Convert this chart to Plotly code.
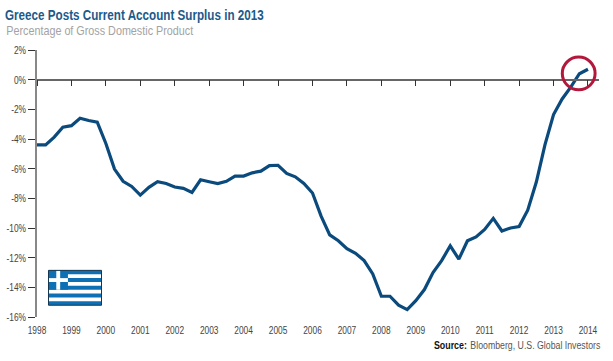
import plotly.graph_objects as go

W, H = 613, 361
L, R, T, B = 37, 14, 49.5, 43.5

years = [1998 + i * 0.25 for i in range(65)]
values = [
    -4.4, -4.4, -3.87, -3.2,
    -3.1, -2.6, -2.75, -2.86,
    -4.3, -6.03, -6.85, -7.2,
    -7.78, -7.26, -6.88, -7.0,
    -7.24, -7.33, -7.6, -6.75,
    -6.88, -7.0, -6.85, -6.5,
    -6.5, -6.28, -6.17, -5.8,
    -5.77, -6.32, -6.55, -7.0,
    -7.64, -9.2, -10.46, -10.86,
    -11.4, -11.7, -12.2, -13.1,
    -14.6, -14.6, -15.2, -15.5,
    -14.9, -14.15, -13.0, -12.2,
    -11.2, -12.1, -10.86, -10.6,
    -10.1, -9.35, -10.2, -10.0,
    -9.9, -8.8, -6.9, -4.4,
    -2.35, -1.3, -0.5, 0.4, 0.7,
]
x_ticks = list(range(1998, 2015))
y_ticks = list(range(-16, 3, 2))
y_labels = [f"{v}%" for v in y_ticks]

TITLE = "Greece Posts Current Account Surplus in 2013"
SUBTITLE = "Percentage of Gross Domestic Product"
SOURCE_HEAD = "Source:"
SOURCE_BODY = "Bloomberg, U.S. Global Investors"

FONT = "Liberation Sans, Arial, sans-serif"
BLUE = "#0b4a7c"
AXIS = "#333333"
FLAG_BLUE = "#0e70b4"


def px(v):
    return (v - L) / (W - L - R)


def py(v):
    return 1 - (v - T) / (H - T - B)


def rect(x0, y0, x1, y1, fill, line=None, width=0):
    return dict(type="rect", xref="paper", yref="paper", x0=px(x0), x1=px(x1), y0=py(y0), y1=py(y1),
                fillcolor=fill, line=dict(color=line or fill, width=width), layer="above")


fx0, fx1, fy0, fy1 = 48.5, 101.5, 270.7, 305.7
sh = (fy1 - fy0) / 9
shapes = [rect(fx0, fy0, fx1, fy1, FLAG_BLUE)]
for i in (1, 3, 5, 7):
    shapes.append(rect(fx0, fy0 + i * sh, fx1, fy0 + (i + 1) * sh, "white"))
shapes.append(rect(fx0, fy0, fx0 + 5 * sh, fy0 + 5 * sh, FLAG_BLUE))
shapes.append(rect(fx0, fy0 + 2 * sh, fx0 + 5 * sh, fy0 + 3 * sh, "white"))
shapes.append(rect(fx0 + 2 * sh, fy0, fx0 + 3 * sh, fy0 + 5 * sh, "white"))
shapes.append(dict(type="rect", xref="paper", yref="paper", x0=px(fx0), x1=px(fx1), y0=py(fy0), y1=py(fy1),
                   line=dict(color="#15374f", width=1), layer="above"))
cx, cy, cr = 578.7, 73, 16.4
shapes.append(dict(type="circle", xref="paper", yref="paper", x0=px(cx - cr), x1=px(cx + cr),
                   y0=py(cy + cr), y1=py(cy - cr), line=dict(color="#b3173b", width=3), layer="above"))

fig = go.Figure()
fig.add_trace(go.Scatter(x=years, y=values, mode="lines", line=dict(color=BLUE, width=3.2), hoverinfo="skip"))
fig.add_trace(go.Scatter(x=x_ticks, y=[None] * len(x_ticks), xaxis="x2", mode="lines", hoverinfo="skip"))

xrange = [1998, 2014.32]
fig.update_layout(
    width=W, height=H, autosize=False,
    margin=dict(l=L, r=R, t=T, b=B, pad=0, autoexpand=False),
    paper_bgcolor="white", plot_bgcolor="white", showlegend=False,
    title=dict(text=TITLE, x=5 / W, xanchor="left", y=1 - 15 / H, yanchor="middle", xref="container", yref="container",
               font=dict(family=FONT, size=15.5, color="#1c5a8a", weight="bold")),
    xaxis=dict(range=xrange, tickmode="array", tickvals=x_ticks, ticktext=[str(v) for v in x_ticks],
               automargin=False, ticks="", showgrid=False, zeroline=False, showline=False, ticklabelstandoff=5,
               tickfont=dict(family=FONT, size=11, color="#444444")),
    xaxis2=dict(range=xrange, overlaying="x", anchor="free", position=16 / 18, side="bottom",
                tickmode="array", tickvals=x_ticks, showticklabels=False, ticks="outside", ticklen=6,
                tickwidth=1, tickcolor=AXIS, showgrid=False, zeroline=False, showline=True,
                linecolor="#666666", linewidth=1.5),
    yaxis=dict(range=[-16, 2], tickmode="array", tickvals=y_ticks, ticktext=y_labels, ticks="outside", ticklen=7,
               automargin=False, tickwidth=1, tickcolor=AXIS, showgrid=False, zeroline=False, showline=True,
               linecolor="#888888", linewidth=1.5,
               tickfont=dict(family=FONT, size=11, color="#444444")),
    shapes=shapes,
    annotations=[
        dict(text=SUBTITLE, xref="paper", yref="paper", x=px(99.5), y=py(30), xanchor="center", yanchor="middle",
             showarrow=False, font=dict(family=FONT, size=13, color="#a3a3a3")),
        dict(text=SOURCE_HEAD, xref="paper", yref="paper", x=px(450), y=py(345.5), xanchor="center", yanchor="middle",
             showarrow=False, font=dict(family=FONT, size=11.5, color="#111111", weight="bold")),
        dict(text=SOURCE_BODY, xref="paper", yref="paper", x=px(535), y=py(345.5), xanchor="center", yanchor="middle",
             showarrow=False, font=dict(family=FONT, size=11.5, color="#555555")),
    ],
)

# The original uses a condensed face; no condensed face is installed, so the real text is narrowed in place.
NARROWING = """
document.body.style.margin = '0';
function narrow(t, k) {
  var x = parseFloat(t.getAttribute('x')) || 0;
  var old = t.getAttribute('transform') || '';
  t.setAttribute('transform', old + ' translate(' + x + ',0) scale(' + k + ',1) translate(' + (-x) + ',0)');
}
document.querySelectorAll('.gtitle').forEach(function (t) { narrow(t, 259 / t.getComputedTextLength()); });
document.querySelectorAll('.xtick text, .ytick text').forEach(function (t) { narrow(t, 0.76); });
var widths = [187, 33, 130];
document.querySelectorAll('.annotation-text').forEach(function (t, i) {
  narrow(t, widths[i] / t.getComputedTextLength());
});
"""
fig.write_html("out.html", config=dict(displayModeBar=False), post_script=NARROWING)
